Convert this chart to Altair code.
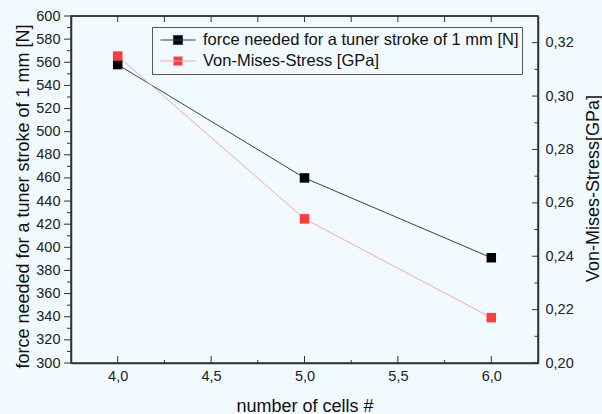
import altair as alt
import pandas as pd

# ---- data ----
cells = [4.0, 5.0, 6.0]
force = [558, 460, 391]
stress = [0.315, 0.254, 0.217]
series_names = ["force needed for a tuner stroke of 1 mm [N]", "Von-Mises-Stress [GPa]"]

x_major = [4.0, 4.5, 5.0, 5.5, 6.0]
x_minor = [4.25, 4.75, 5.25, 5.75]
left_major = list(range(300, 601, 20))
left_minor = list(range(310, 600, 20))
right_major = [0.20, 0.22, 0.24, 0.26, 0.28, 0.30, 0.32]
right_minor = [0.21, 0.23, 0.25, 0.27, 0.29, 0.31]

# ---- styling ----
W, H = 467, 347
BG = "#f0faff"
FONT = "Liberation Sans"
AX = "#333333"
X_TITLE = "number of cells #"

df_f = pd.DataFrame({"cells": cells, "value": force, "series": series_names[0]})
df_s = pd.DataFrame({"cells": cells, "value": stress, "series": series_names[1]})

xscale = alt.Scale(domain=[3.75, 6.25], nice=False, zero=False)
yl = alt.Scale(domain=[300, 600], nice=False, zero=False)
yr = alt.Scale(domain=[0.20, 0.33], nice=False, zero=False)
stroke_scale = alt.Scale(domain=series_names, range=["#34405e", "#f5a3b7"])
fill_scale = alt.Scale(domain=series_names, range=["#000000", "#ff3b3b"])
leg = alt.Legend(title=None)

x_axis = alt.Axis(
    values=x_major, labelExpr="replace(format(datum.value, '.1f'), '.', ',')",
    ticks=False, labelPadding=6, grid=False,
    titleX=W / 2, titleY=48, titleBaseline="alphabetic", titleAlign="center")


def xenc():
    # identical x definition in every layer so the shared axis merges cleanly
    return alt.X("cells:Q", scale=xscale, axis=x_axis, title=X_TITLE)


def ticks_df(vals):
    return pd.DataFrame({"cells": vals, "t": vals})


def xrule(vals, y0, y1):
    return alt.Chart(ticks_df(vals)).mark_rule(color=AX, strokeWidth=1).encode(
        x=xenc(), y=alt.value(y0), y2=alt.value(y1))


def yrule(vals, scale, x0, x1):
    return alt.Chart(ticks_df(vals)).mark_rule(color=AX, strokeWidth=1).encode(
        y=alt.Y("t:Q", scale=scale, axis=None),
        x=alt.value(x0), x2=alt.value(x1))


left_axis = alt.Axis(
    orient="left", values=left_major, ticks=False, labelPadding=11, grid=False,
    titleAngle=270, titleX=-43, titleY=180, titleBaseline="alphabetic", titleAlign="center")

right_axis = alt.Axis(
    orient="right", values=right_major,
    labelExpr="replace(format(datum.value, '.2f'), '.', ',')",
    ticks=False, labelPadding=7, grid=False,
    titleAngle=270, titleX=60, titleY=172, titleBaseline="alphabetic", titleAlign="center")

black_line = alt.Chart(df_f).mark_line(strokeWidth=1).encode(
    x=xenc(),
    y=alt.Y("value:Q", scale=yl, axis=left_axis, title="force needed for a tuner stroke of 1 mm [N]"),
    stroke=alt.Stroke("series:N", scale=stroke_scale, legend=leg))
black_pts = alt.Chart(df_f).mark_point(shape="square", filled=True, size=90, opacity=1).encode(
    x=xenc(),
    y=alt.Y("value:Q", scale=yl, axis=None),
    fill=alt.Fill("series:N", scale=fill_scale, legend=leg))

red_line = alt.Chart(df_s).mark_line(strokeWidth=1).encode(
    x=xenc(),
    y=alt.Y("value:Q", scale=yr, axis=right_axis, title="Von-Mises-Stress[GPa]"),
    stroke=alt.Stroke("series:N", scale=stroke_scale, legend=leg))
red_pts = alt.Chart(df_s).mark_point(shape="square", filled=True, size=90, opacity=1).encode(
    x=xenc(),
    y=alt.Y("value:Q", scale=yr, axis=None),
    fill=alt.Fill("series:N", scale=fill_scale, legend=leg))

# top border of the frame
top_border = alt.Chart(ticks_df([0])).mark_rule(color=AX, strokeWidth=1.5).encode(
    x=alt.value(0), x2=alt.value(W), y=alt.value(0))

chart = alt.layer(
    black_line, red_line,
    xrule(x_major, H, H - 7), xrule(x_minor, H, H - 3),
    xrule(x_major + x_minor, 0, 6),
    yrule(left_major, yl, -7, 0), yrule(left_minor, yl, -4, 0),
    yrule(right_major, yr, W - 6, W), yrule(right_minor, yr, W - 3.5, W),
    top_border,
    black_pts, red_pts,
).resolve_scale(y="independent").properties(
    width=W, height=H,
    autosize=alt.AutoSizeParams(type="none"),
    padding={"left": 71, "top": 16, "right": 602 - 71 - W, "bottom": 414 - 16 - H},
    background=BG,
).configure_view(
    stroke=AX, strokeWidth=1.5
).configure_axis(
    domainColor=AX, domainWidth=1.5,
    labelFont=FONT, labelFontSize=14.5, labelColor="#222222",
    titleFont=FONT, titleFontSize=18, titleFontWeight="normal", titleColor="#111111",
).configure_legend(
    orient="none", legendX=81, legendY=11,
    strokeColor="#555555", fillColor=BG, padding=3, cornerRadius=0,
    symbolType="M-1,0H1M-0.26,-0.26H0.26V0.26H-0.26Z", symbolSize=1225,
    symbolStrokeWidth=1, symbolOffset=5, labelOffset=7,
    labelFont=FONT, labelFontSize=16.5, labelColor="#111111", labelLimit=0,
    clipHeight=20, rowPadding=1,
)

chart.save("out.html", embed_options={"renderer": "svg", "actions": False})
